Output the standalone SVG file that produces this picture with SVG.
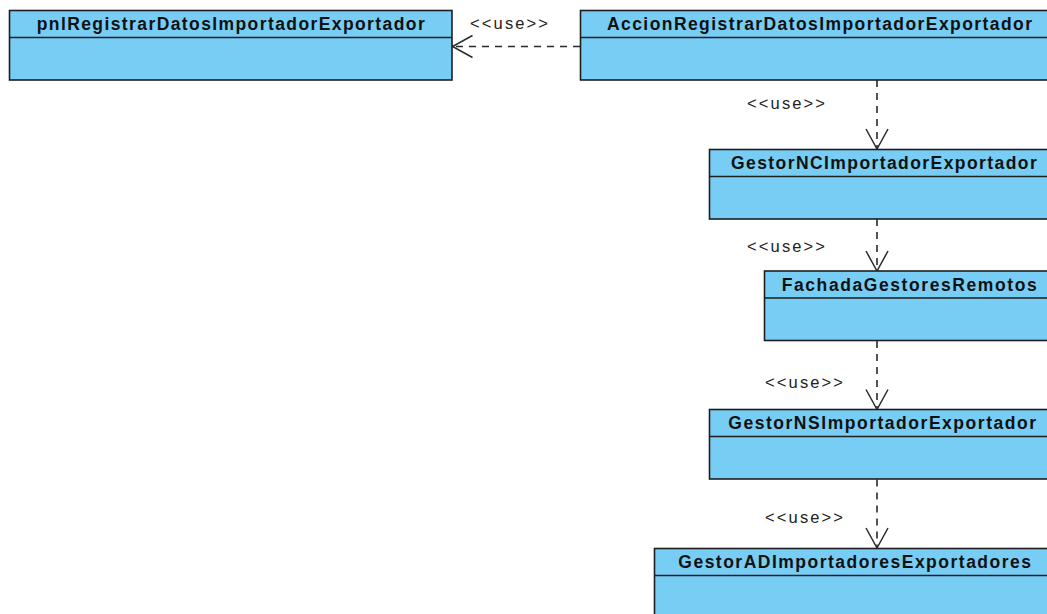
<svg xmlns="http://www.w3.org/2000/svg" width="1047" height="614" viewBox="0 0 1047 614">
  <style>
    .box { fill: #78cdf4; stroke: #1e1e1e; stroke-width: 1.6; }
    .sep { stroke: #1e1e1e; stroke-width: 1.6; }
    .title { font-family: "Liberation Sans", Arial, sans-serif; font-weight: bold; font-size: 17.5px; fill: #111; }
    .lbl { font-family: "Liberation Sans", Arial, sans-serif; font-size: 16.5px; fill: #222; }
    .dep { fill: none; stroke: #2a2a2a; stroke-width: 1.6; stroke-dasharray: 7 6; }
  </style>
  <defs>
    <marker id="open" viewBox="0 0 24 26" refX="21" refY="13" markerWidth="24" markerHeight="26" markerUnits="userSpaceOnUse" orient="auto">
      <path d="M1,2 L21,13 L1,24" fill="none" stroke="#2a2a2a" stroke-width="1.5"/>
    </marker>
  </defs>
  <rect width="1047" height="614" fill="#ffffff"/>

  <g id="connectors">
    <line class="dep" x1="580" y1="46.5" x2="452.5" y2="46.5" marker-end="url(#open)"/>
    <line class="dep" x1="877" y1="80" x2="877" y2="149" marker-end="url(#open)"/>
    <line class="dep" x1="877" y1="219" x2="877" y2="271" marker-end="url(#open)"/>
    <line class="dep" x1="877" y1="341" x2="877" y2="409.5" marker-end="url(#open)"/>
    <line class="dep" x1="877" y1="479.5" x2="877" y2="548" marker-end="url(#open)"/>
    <text class="lbl" x="470" y="29" textLength="78" lengthAdjust="spacing">&lt;&lt;use&gt;&gt;</text>
    <text class="lbl" x="747" y="108.5" textLength="78" lengthAdjust="spacing">&lt;&lt;use&gt;&gt;</text>
    <text class="lbl" x="747" y="251.5" textLength="78" lengthAdjust="spacing">&lt;&lt;use&gt;&gt;</text>
    <text class="lbl" x="765" y="387.5" textLength="78" lengthAdjust="spacing">&lt;&lt;use&gt;&gt;</text>
    <text class="lbl" x="765" y="522.5" textLength="78" lengthAdjust="spacing">&lt;&lt;use&gt;&gt;</text>
  </g>

  <g id="pnlRegistrarDatosImportadorExportador">
    <rect class="box" x="9.5" y="10.5" width="442.5" height="69.5"/>
    <line class="sep" x1="9.5" y1="37.5" x2="452" y2="37.5"/>
    <text class="title" x="36.7" y="29.5" textLength="388" lengthAdjust="spacing">pnlRegistrarDatosImportadorExportador</text>
  </g>

  <g id="AccionRegistrarDatosImportadorExportador">
    <rect class="box" x="580.5" y="10.5" width="480" height="69.5"/>
    <line class="sep" x1="580.5" y1="37.5" x2="1060" y2="37.5"/>
    <text class="title" x="607" y="29.5" textLength="425" lengthAdjust="spacing">AccionRegistrarDatosImportadorExportador</text>
  </g>

  <g id="GestorNCImportadorExportador">
    <rect class="box" x="709.5" y="149.5" width="350" height="69.5"/>
    <line class="sep" x1="709.5" y1="176.5" x2="1060" y2="176.5"/>
    <text class="title" x="731" y="169" textLength="305.7" lengthAdjust="spacing">GestorNCImportadorExportador</text>
  </g>

  <g id="FachadaGestoresRemotos">
    <rect class="box" x="764.5" y="271" width="300" height="69.5"/>
    <line class="sep" x1="764.5" y1="298" x2="1065" y2="298"/>
    <text class="title" x="781.7" y="290.5" textLength="255" lengthAdjust="spacing">FachadaGestoresRemotos</text>
  </g>

  <g id="GestorNSImportadorExportador">
    <rect class="box" x="709.5" y="409.5" width="350" height="69.5"/>
    <line class="sep" x1="709.5" y1="436.5" x2="1060" y2="436.5"/>
    <text class="title" x="728.3" y="429" textLength="307.7" lengthAdjust="spacing">GestorNSImportadorExportador</text>
  </g>

  <g id="GestorADImportadoresExportadores">
    <rect class="box" x="654.5" y="548.5" width="410" height="80"/>
    <line class="sep" x1="654.5" y1="575.5" x2="1065" y2="575.5"/>
    <text class="title" x="678.3" y="568" textLength="352.7" lengthAdjust="spacing">GestorADImportadoresExportadores</text>
  </g>
</svg>
